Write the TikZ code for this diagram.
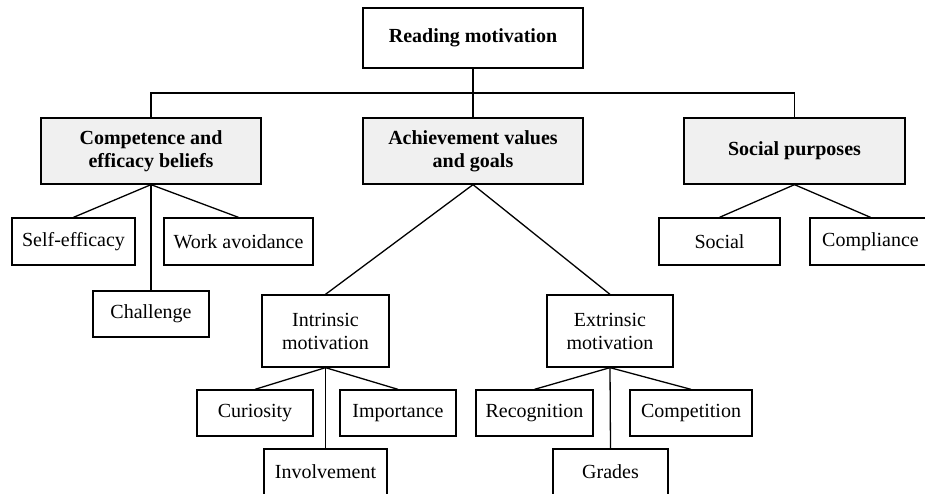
\documentclass[tikz,border=0pt]{standalone}
\usepackage{fontspec}
\setmainfont{Liberation Serif}
\newfontfamily\tnr{Liberation Serif}
\usepackage{tikz}
\usetikzlibrary{positioning}
\tikzset{box/.style={draw, line width=1.3pt, inner sep=0pt, align=center, font=\tnr\fontsize{20}{23}\selectfont}}
\tikzset{head/.style={box, fill=black!6, font=\tnr\fontsize{20}{23}\selectfont\bfseries}}

\begin{document}
\begin{tikzpicture}[x=1pt, y=-1pt, line width=1.3pt]
\useasboundingbox (0,0) rectangle (925,494);
\node (RM) [box, font=\tnr\fontsize{20}{23}\selectfont\bfseries, minimum width=220pt, minimum height=60pt] at (473,38) {Reading motivation};
\node (CE) [head, minimum width=220pt, minimum height=66pt] at (151,151) {Competence and\\efficacy beliefs};
\node (AV) [head, minimum width=220pt, minimum height=66pt] at (473,151) {Achievement values\\and goals};
\node (SP) [head, minimum width=221pt, minimum height=66pt] at (794.5,151) {Social purposes};
\coordinate (bar) at (473,93);

\node (SE) [box, minimum width=123pt, minimum height=47pt] at (73.5,241.5) {Self-efficacy};
\node (WA) [box, minimum width=149pt, minimum height=47pt] at (238.5,241.5) {Work avoidance};
\node (CH) [box, minimum width=116pt, minimum height=46pt] at (151,314) {Challenge};

\node (IM) [box, minimum width=127pt, minimum height=72pt] at (325.5,331) {Intrinsic\\motivation};
\node (EM) [box, minimum width=126pt, minimum height=72pt] at (610,331) {Extrinsic\\motivation};

\node (CU) [box, minimum width=116pt, minimum height=46pt] at (255,413) {Curiosity};
\node (IP) [box, minimum width=116pt, minimum height=46pt] at (398,413) {Importance};
\node (IV) [box, minimum width=123pt, minimum height=46pt] at (325.5,472) {Involvement};
\node (RC) [box, minimum width=117pt, minimum height=46pt] at (534.5,413) {Recognition};
\node (CP) [box, minimum width=122pt, minimum height=46pt] at (691,413) {Competition};
\node (GR) [box, minimum width=115pt, minimum height=46pt] at (610.5,472) {Grades};

\node (SO) [box, minimum width=121pt, minimum height=47pt] at (719.5,241.5) {Social};
\node (CM) [box, minimum width=121pt, minimum height=47pt] at (870.5,241.5) {Compliance};

\path [draw] (RM) -- (bar);
\path [draw] (CE.north) |- (bar) -| (SP.north);
\path [draw] (bar) -- (AV);

\path [draw] (CE.south) -- (SE.north);
\path [draw] (CE.south) -- (WA.north);
\path [draw] (CE.south) -- (CH.north);

\path [draw] (AV.south) -- (IM.north);
\path [draw] (AV.south) -- (EM.north);

\path [draw] (IM.south) -- (CU.north);
\path [draw] (IM.south) -- (IP.north);
\path [draw] (IM.south) -- (IV.north);

\path [draw] (EM.south) -- (RC.north);
\path [draw] (EM.south) -- (CP.north);
\path [draw] (EM.south) -- (GR.north);

\path [draw] (SP.south) -- (SO.north);
\path [draw] (SP.south) -- (CM.north);
\end{tikzpicture}
\end{document}
